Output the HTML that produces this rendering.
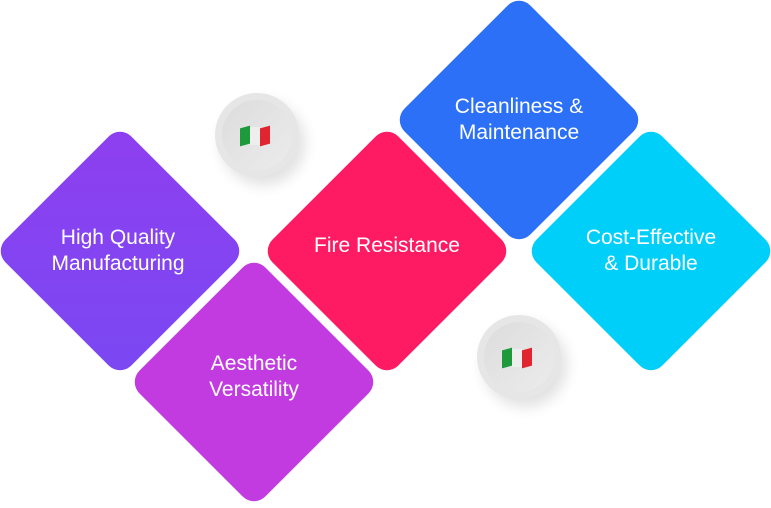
<!DOCTYPE html>
<html><head><style>
body{margin:0;width:771px;height:503px;background:#fff;position:relative;overflow:hidden;font-family:"Liberation Sans",sans-serif}
.d{position:absolute;width:178px;height:178px;border-radius:16px;transform:rotate(45deg)}
.t{position:absolute;width:240px;text-align:center;color:#fff;font-size:21px;line-height:26px;transform:translate(-50%,-50%)}
.c{position:absolute;width:84px;height:84px;border-radius:50%;background:#e6e6e6;box-shadow:6px 8px 14px rgba(0,0,0,.12)}
.c i{position:absolute;left:7px;top:7px;width:70px;height:70px;border-radius:50%;background:linear-gradient(135deg,#dcdcdc,#ececec)}
.f{position:absolute;top:32px;height:18px;width:10px}
</style></head><body>
<div class="d" style="left:31px;top:162px;background:linear-gradient(135deg,#8e3ff0,#7a48f2)"></div>
<div class="d" style="left:165px;top:293px;background:#c23be0"></div>
<div class="d" style="left:298px;top:162px;background:#ff1a64"></div>
<div class="d" style="left:430px;top:31px;background:#2b70f6"></div>
<div class="d" style="left:562px;top:162px;background:#00d0f9"></div>
<div class="t" style="left:118px;top:251px">High Quality<br>Manufacturing</div>
<div class="t" style="left:254px;top:377px">Aesthetic<br>Versatility</div>
<div class="t" style="left:387px;top:246px">Fire Resistance</div>
<div class="t" style="left:519px;top:120px">Cleanliness &amp;<br>Maintenance</div>
<div class="t" style="left:651px;top:251px">Cost-Effective<br>&amp; Durable</div>
<div class="c" style="left:215px;top:93px"><i></i>
<span class="f" style="left:25px;top:34px;background:#1e9a3c;transform:skewY(-15deg)"></span>
<span class="f" style="left:35px;top:34px;background:#eee"></span>
<span class="f" style="left:45px;top:34px;background:#e02530;transform:skewY(-15deg)"></span></div>
<div class="c" style="left:477px;top:315px"><i></i>
<span class="f" style="left:25px;top:34px;background:#1e9a3c;transform:skewY(-15deg)"></span>
<span class="f" style="left:35px;top:34px;background:#eee"></span>
<span class="f" style="left:45px;top:34px;background:#e02530;transform:skewY(-15deg)"></span></div>
</body></html>
